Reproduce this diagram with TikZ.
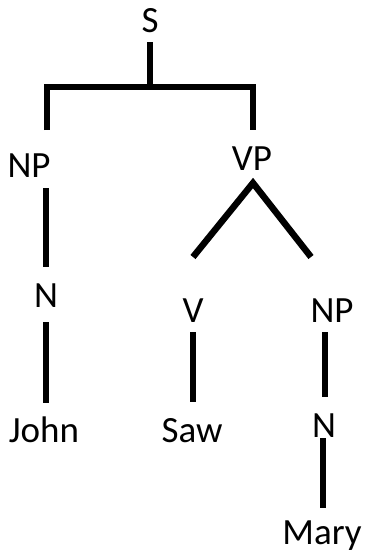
\documentclass[tikz,border=0pt]{standalone}
\usepackage{fontspec}
\setmainfont{Carlito}
\usetikzlibrary{calc}
\begin{document}
\begin{tikzpicture}[x=1pt,y=1pt,
  lab/.style={anchor=base,inner sep=0pt,font=\fontsize{37}{40}\selectfont},
  branch/.style={line width=6.5pt,line join=miter,line cap=butt}]
\useasboundingbox (0,0) rectangle (364,-554);
% labels, placed by their baselines
\node[lab] (S)    at (150,-32)  {S};
\node[lab] (np1)  at (29,-177)  {NP};
\node[lab] (vp)   at (252,-170) {VP};
\node[lab] (n1)   at (46,-307)  {N};
\node[lab] (john) at (44,-442)  {John};
\node[lab] (v)    at (193,-322) {V};
\node[lab] (np2)  at (332,-322) {NP};
\node[lab] (saw)  at (192,-442) {Saw};
\node[lab] (n2)   at (324,-437) {N};
\node[lab] (mary) at (322,-544) {Mary};
% S -> NP, VP (bracket)
\draw[branch] ($(S.base)+(0,-10)$) -- ($(S.base)+(0,-55)$);
\draw[branch] ($(np1.base)+(18,47)$) |- ($(S.base)+(0,-55)$) -| ($(vp.base)+(1,40)$);
% NP -> N -> John
\draw[branch] ($(np1.base)+(17,-11)$) -- ($(n1.base)+(0,40)$);
\draw[branch] ($(n1.base)+(0,-15)$) -- ($(john.base)+(2,39)$);
% VP -> V, NP
\draw[branch] ($(v.base)+(0,65)$) -- ($(vp.base)+(1,-13)$) -- ($(np2.base)+(-21,65)$);
% V -> Saw
\draw[branch] ($(v.base)+(0,-10)$) -- ($(saw.base)+(1,40)$);
% NP -> N -> Mary
\draw[branch] ($(np2.base)+(-7,-10)$) -- ($(n2.base)+(1,40)$);
\draw[branch] ($(n2.base)+(-1,-1)$) -- ($(mary.base)+(1,36)$);
\end{tikzpicture}
\end{document}
